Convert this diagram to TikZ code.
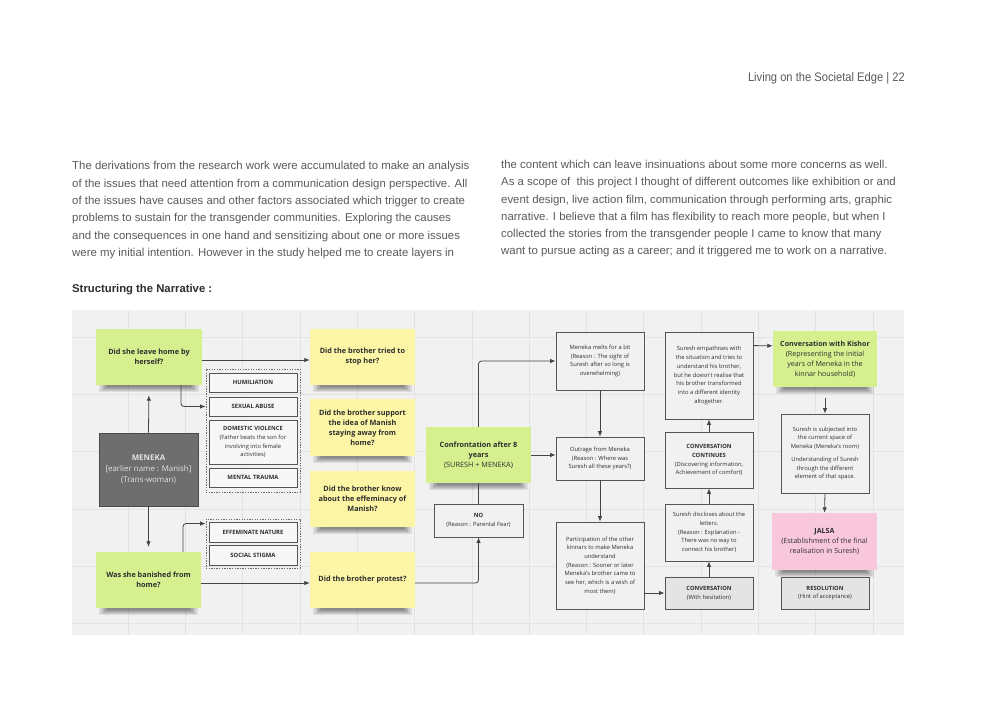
\documentclass[tikz,border=0pt]{standalone}
\usepackage{fontspec}
\setmainfont{Liberation Sans}
\newfontfamily\osans{Open Sans}
\newfontfamily\hdrfont[FakeStretch=0.9]{Liberation Sans}
\usetikzlibrary{arrows.meta,calc}
\pgfdeclarelayer{bglayer}
\pgfdeclarelayer{shlayer}
\pgfsetlayers{bglayer,shlayer,main}
\definecolor{bgc}{HTML}{F1F1F1}
\definecolor{gridc}{HTML}{E3E3E3}
\definecolor{stgreen}{HTML}{D6F08F}
\definecolor{styellow}{HTML}{FCF5A5}
\definecolor{stpink}{HTML}{F9C7DC}
\definecolor{txt}{HTML}{2E2E2E}
\definecolor{boxline}{HTML}{555555}
\definecolor{tagfill}{HTML}{F7F7F7}
\definecolor{grayfill}{HTML}{E4E4E4}
\definecolor{grpline}{HTML}{6A6A6A}
\definecolor{arrc}{HTML}{444444}
\definecolor{darkg}{HTML}{6E6E6E}
\definecolor{darkline}{HTML}{4A4A4A}
\definecolor{mentxt}{HTML}{E2E2E2}
\definecolor{bodytxt}{HTML}{5A5A5A}
\newcommand\stickyfont{\osans\bfseries\fontsize{7.3}{10}\selectfont}
\newcommand\smallfont{\osans\fontsize{5.8}{8.7}\selectfont}
\newcommand\tagfont{\osans\bfseries\fontsize{5.9}{8.7}\selectfont}
\newcommand\notefont{\osans\fontsize{7.1}{10}\selectfont}
\begin{document}
\begin{tikzpicture}[x=1pt,y=-1pt,
  sticky/.style={inner sep=0pt, align=center, font=\stickyfont, text=txt},
  green/.style={sticky, fill=stgreen},
  yellow/.style={sticky, fill=styellow},
  pink/.style={sticky, fill=stpink},
  plainbox/.style={draw=boxline, line width=0.8pt, fill=bgc, inner sep=0pt,
    align=center, font=\smallfont, text=txt},
  tagbox/.style={plainbox, fill=tagfill, font=\tagfont},
  graybox/.style={plainbox, fill=grayfill, line width=1pt},
  grp/.style={draw=grpline, line width=0.9pt, dash pattern=on 1.3pt off 1.3pt, inner sep=0pt},
  arr/.style={draw=arrc, line width=0.8pt, -{Latex[length=5.5pt,width=4.5pt]}, rounded corners=3pt},
  ln/.style={draw=arrc, line width=0.8pt},
  gridline/.style={draw=gridc, line width=0.6pt},
  shadowpart/.style={fill=black, opacity=0.085}
]
\useasboundingbox (0,0) rectangle (1000,707);

% header
\node[anchor=base east, inner sep=0pt, font=\hdrfont\fontsize{12.4}{14}\selectfont, text=bodytxt] (hdr) at (905,81) {Living on the Societal Edge | 22};

% body text
\node[anchor=north west, inner sep=0pt, align=left, text=bodytxt,
  font=\fontsize{11.4}{17.3}\selectfont] (para1) at (72,161.5)
{The derivations from the research work were accumulated to make an analysis\\
of the issues that need attention from a communication design perspective. All\\
of the issues have causes and other factors associated which trigger to create\\
problems to sustain for the transgender communities. Exploring the causes\\
and the consequences in one hand and sensitizing about one or more issues\\
were my initial intention. However in the study helped me to create layers in};
\node[anchor=north west, inner sep=0pt, align=left, text=bodytxt,
  font=\fontsize{11.4}{17.3}\selectfont] (para2) at (501,160)
{the content which can leave insinuations about some more concerns as well.\\
As a scope of \ this project I thought of different outcomes like exhibition or and\\
event design, live action film, communication through performing arts, graphic\\
narrative. I believe that a film has flexibility to reach more people, but when I\\
collected the stories from the transgender people I came to know that many\\
want to pursue acting as a career; and it triggered me to work on a narrative.};

\node[anchor=base west, inner sep=0pt, text=txt, font=\bfseries\fontsize{11.3}{12}\selectfont] (title) at (72,292) {Structuring the Narrative :};

% diagram background and grid
\begin{pgfonlayer}{bglayer}
\fill[white] (0,0) rectangle (1000,707);
\fill[bgc] (72,310) rectangle (904,635);
\foreach \i in {0,...,13} {\draw[gridline] ({128+57.3*\i},310) -- ({128+57.3*\i},635);}
\foreach \i in {0,...,5} {\draw[gridline] (72,{337+57.3*\i}) -- (904,{337+57.3*\i});}
\end{pgfonlayer}

% left column
\node[green, minimum width=106pt, minimum height=56pt] (leave) at (149,357) {Did she leave home by\\herself?};
\node[draw=darkline, line width=0.9pt, fill=darkg, text=mentxt, inner sep=0pt, align=center,
  font=\osans\fontsize{7.9}{11.2}\selectfont, minimum width=99pt, minimum height=73pt] (meneka) at (148.5,469.5)
  {{\bfseries MENEKA}\\{[}earlier name : Manish{]}\\(Trans-woman)};
\node[green, minimum width=105pt, minimum height=56pt] (banished) at (148.5,580) {Was she banished from\\home?};

% groups
\node[grp, minimum width=94pt, minimum height=123pt] (group1) at (253,430.5) {};
\node[tagbox, minimum width=88pt, minimum height=19pt] (humil) at (253,382.5) {HUMILIATION};
\node[tagbox, minimum width=88pt, minimum height=19pt] (sexual) at (253,406.5) {SEXUAL ABUSE};
\node[plainbox, fill=tagfill, minimum width=88pt, minimum height=44pt] (domestic) at (253,442)
  {{\bfseries DOMESTIC VIOLENCE}\\(Father beats the son for\\involving into female\\activities)};
\node[tagbox, minimum width=88pt, minimum height=19pt] (mental) at (253,477.5) {MENTAL TRAUMA};
\node[grp, minimum width=94pt, minimum height=49pt] (group2) at (253,543.5) {};
\node[tagbox, minimum width=88pt, minimum height=20pt] (effem) at (253,532) {EFFEMINATE NATURE};
\node[tagbox, minimum width=88pt, minimum height=20pt] (stigma) at (253,555.5) {SOCIAL STIGMA};

% yellow questions
\node[yellow, minimum width=105pt, minimum height=56pt] (y1) at (362.5,357) {Did the brother tried to\\stop her?};
\node[yellow, minimum width=105pt, minimum height=57pt] (y2) at (362.5,427.5) {Did the brother support\\the idea of Manish\\staying away from\\home?};
\node[yellow, minimum width=105pt, minimum height=56pt] (y3) at (362.5,499) {Did the brother know\\about the effeminacy of\\Manish?};
\node[yellow, minimum width=105pt, minimum height=56pt] (y4) at (362.5,580) {Did the brother protest?};

% confrontation
\node[green, minimum width=105pt, minimum height=56pt] (confront) at (478.5,455)
  {Confrontation after 8\\years\\{\mdseries (SURESH + MENEKA)}};
\node[plainbox, minimum width=89pt, minimum height=33pt] (no) at (478.5,520.5)
  {{\bfseries NO}\\(Reason : Parental Fear)};

% middle columns
\node[plainbox, minimum width=88pt, minimum height=58pt] (melts) at (600,361)
  {Meneka melts for a bit\\(Reason : The sight of\\Suresh after so long is\\overwhelming)};
\node[plainbox, minimum width=88pt, minimum height=43pt] (outrage) at (600,458.5)
  {Outrage from Meneka\\(Reason : Where was\\Suresh all these years?)};
\node[plainbox, minimum width=88pt, minimum height=87pt] (particip) at (600,565.5)
  {Participation of the other\\kinnars to make Meneka\\understand\\(Reason : Sooner or later\\Meneka's brother came to\\see her, which is a wish of\\most them)};
\node[graybox, minimum width=88pt, minimum height=32pt] (convo) at (709,593)
  {{\bfseries CONVERSATION}\\(With hesitation)};
\node[plainbox, minimum width=88pt, minimum height=57pt] (disclose) at (709,532.5)
  {Suresh discloses about the\\letters.\\(Reason : Explanation -\\There was no way to\\connect his brother)};
\node[plainbox, minimum width=88pt, minimum height=56pt] (continues) at (709,460)
  {{\bfseries CONVERSATION}\\{\bfseries CONTINUES}\\(Discovering information,\\Achievement of comfort)};
\node[plainbox, minimum width=88pt, minimum height=87pt] (empath) at (709,375.5)
  {Suresh empathises with\\the situation and tries to\\understand his brother,\\but he doesn't realise that\\his brother transformed\\into a different identity\\altogether.};

% right column
\node[green, font=\notefont, minimum width=104pt, minimum height=56pt] (kishor) at (825,359)
  {{\bfseries Conversation with Kishor}\\(Representing the initial\\years of Meneka in the\\kinnar household)};
\node[plainbox, minimum width=88pt, minimum height=79pt] (subjected) at (825,453.5)
  {Suresh is subjected into\\the current space of\\Meneka (Meneka's room)\\[4pt]Understanding of Suresh\\through the different\\element of that space.};
\node[pink, font=\notefont, minimum width=105pt, minimum height=57pt] (jalsa) at (824.5,541.5)
  {{\bfseries JALSA}\\(Establishment of the final\\realisation in Suresh)};
\node[graybox, minimum width=88pt, minimum height=32pt] (resolution) at (825,593)
  {{\bfseries RESOLUTION}\\(Hint of acceptance)};

% sticky-note shadows
\begin{pgfonlayer}{shlayer}
\foreach \n in {leave,banished,y1,y2,y3,y4,confront,kishor,jalsa} {
  \foreach \k in {1,...,6} {
    \fill[shadowpart] ([xshift={2pt+\k*1.6pt}, yshift=10pt]\n.south west)
      rectangle ([xshift={-2pt-\k*1.6pt}, yshift={-7.5pt+\k*1pt}]\n.south east);
  }
}
\end{pgfonlayer}

% connectors
\draw[arr, shorten >=10pt] (meneka.north) -- (leave.south);
\draw[arr, shorten >=5pt] (meneka.south) -- (banished.north);
\draw[arr] ([yshift=-3pt]leave.east) -- ([yshift=-3pt]y1.west);
\draw[arr] ([xshift=32pt]leave.south) |- (group1.west |- sexual.west);
\draw[arr] ([xshift=34.5pt]banished.north) |- ([yshift=-5pt]group2.north west);
\draw[arr] ([yshift=-3pt]banished.east) -- ([yshift=-3pt]y4.west);
\draw[arr] (confront.north) |- (melts.west);
\draw[arr] (confront.east) -- (confront.east -| outrage.west);
\draw[ln] (confront.south) -- (no.north);
\draw[arr] ([yshift=-3pt]y4.east) -| (no.south);
\draw[arr] (melts.south) -- (outrage.north);
\draw[arr] (outrage.south) -- (particip.north);
\draw[arr] (particip.east |- convo.west) -- (convo.west);
\draw[arr] (convo.north) -- (disclose.south);
\draw[arr] (disclose.north) -- (continues.south);
\draw[arr] (continues.north) -- (empath.south);
\draw[arr] ([yshift=-14pt]empath.north east) -- ([yshift=-15pt]kishor.north west);
\draw[arr, shorten <=11pt] (kishor.south) -- (subjected.north);
\draw[arr] (subjected.south) -- (jalsa.north);
\end{tikzpicture}
\end{document}
